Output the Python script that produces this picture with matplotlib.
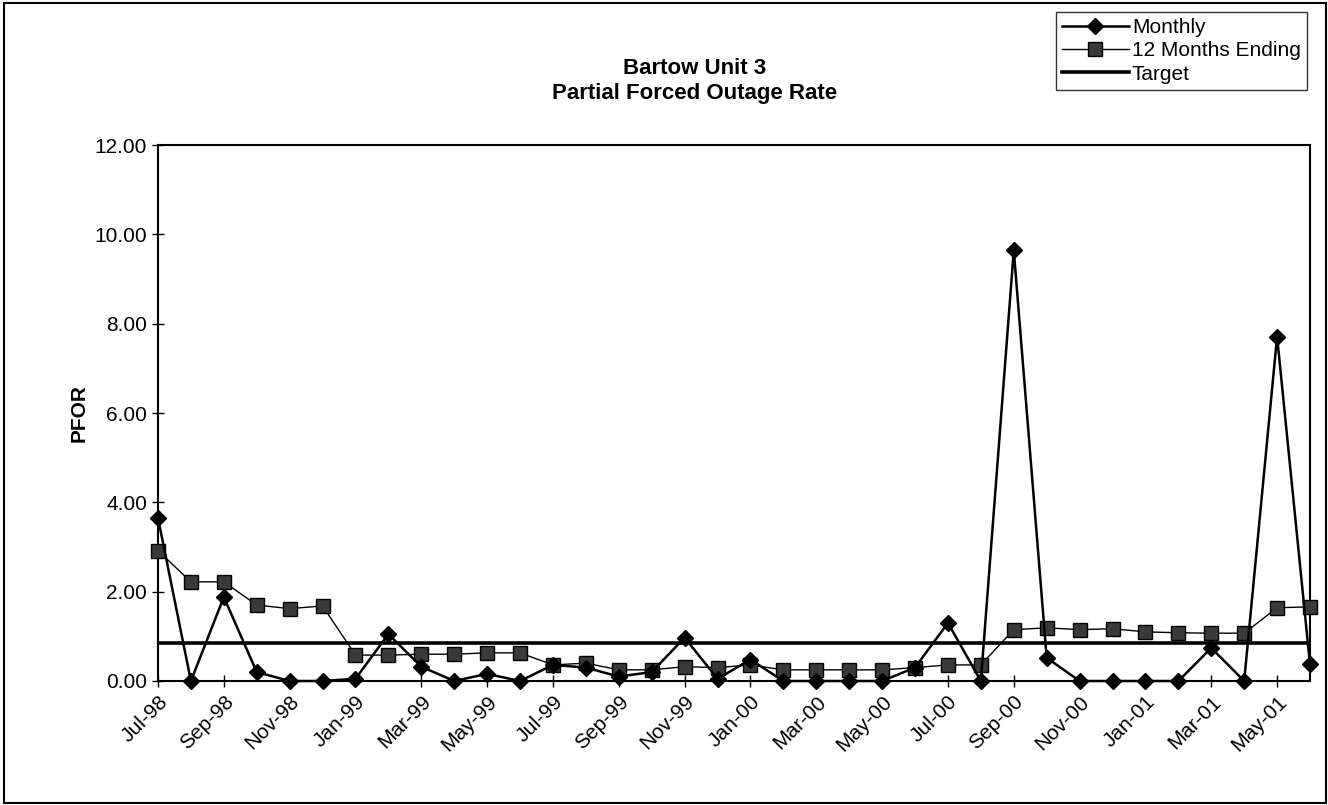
import matplotlib
matplotlib.use("Agg")
import matplotlib.pyplot as plt
from matplotlib.patches import Rectangle

plt.rcParams['font.family'] = ['Liberation Sans', 'DejaVu Sans']

# Meses de Jul-98 a Jun-01
months = ["Jul-98", "Aug-98", "Sep-98", "Oct-98", "Nov-98", "Dec-98",
          "Jan-99", "Feb-99", "Mar-99", "Apr-99", "May-99", "Jun-99",
          "Jul-99", "Aug-99", "Sep-99", "Oct-99", "Nov-99", "Dec-99",
          "Jan-00", "Feb-00", "Mar-00", "Apr-00", "May-00", "Jun-00",
          "Jul-00", "Aug-00", "Sep-00", "Oct-00", "Nov-00", "Dec-00",
          "Jan-01", "Feb-01", "Mar-01", "Apr-01", "May-01", "Jun-01"]

monthly = [3.65, 0.00, 1.88, 0.20, 0.00, 0.00,
           0.05, 1.05, 0.32, 0.00, 0.16, 0.00,
           0.36, 0.30, 0.10, 0.20, 0.97, 0.05,
           0.48, 0.00, 0.00, 0.00, 0.00, 0.30,
           1.30, 0.00, 9.64, 0.52, 0.00, 0.00,
           0.00, 0.00, 0.74, 0.00, 7.71, 0.37]

twelve_months = [2.92, 2.22, 2.22, 1.70, 1.62, 1.68,
                 0.58, 0.58, 0.60, 0.60, 0.63, 0.63,
                 0.36, 0.40, 0.25, 0.25, 0.32, 0.30,
                 0.36, 0.25, 0.25, 0.25, 0.25, 0.30,
                 0.36, 0.36, 1.15, 1.19, 1.15, 1.17,
                 1.10, 1.08, 1.07, 1.07, 1.64, 1.66]

target = [0.84] * len(months)

x = list(range(len(months)))
fs = 15

fig = plt.figure(figsize=(13.28, 8.05), dpi=100)
ax = fig.add_axes([158 / 1328, 1 - 681 / 805, (1310 - 158) / 1328, (681 - 145) / 805])

ax.plot(x, target, color="black", lw=2.6, label="Target", zorder=2)
ax.plot(x, twelve_months, color="black", lw=1.0, marker="s", markersize=9.5,
        markerfacecolor="#3a3a3a", markeredgecolor="black", markeredgewidth=1.0,
        label="12 Months Ending", zorder=3, clip_on=False)
ax.plot(x, monthly, color="black", lw=1.8, marker="D", markersize=8.5,
        markerfacecolor="black", markeredgecolor="black",
        label="Monthly", zorder=4, clip_on=False)

ax.set_xlim(0, len(months) - 1)
ax.set_ylim(0, 12)
ax.set_yticks([0, 2, 4, 6, 8, 10, 12])
ax.set_yticklabels([f"{v:.2f}" for v in [0, 2, 4, 6, 8, 10, 12]], fontsize=fs)
ax.set_xticks(x[::2])
ax.set_xticklabels(months[::2], rotation=45, ha="right", va="top",
                   rotation_mode="anchor", fontsize=fs)
ax.tick_params(axis="both", direction="inout", length=8, width=1.0, pad=4)
for s in ax.spines.values():
    s.set_linewidth(1.5)
ax.set_ylabel("PFOR", fontsize=fs, fontweight="bold", labelpad=4)

fig.text(0.523, 1 - 68 / 805, "Bartow Unit 3", ha="center", va="center",
         fontsize=16, fontweight="bold")
fig.text(0.523, 1 - 93 / 805, "Partial Forced Outage Rate", ha="center", va="center",
         fontsize=16, fontweight="bold")

handles, labels = ax.get_legend_handles_labels()
order = [2, 1, 0]
leg = fig.legend([handles[i] for i in order], [labels[i] for i in order],
                 loc="upper right", bbox_to_anchor=(1307 / 1328, 1 - 12 / 805),
                 fontsize=fs, frameon=True, fancybox=False, shadow=False,
                 borderpad=0.3, labelspacing=0.2, handlelength=3.2,
                 handletextpad=0.15, borderaxespad=0)
leg.get_frame().set_edgecolor("black")
leg.get_frame().set_linewidth(1.0)

# marco exterior del gráfico
fig.patches.append(Rectangle((4 / 1328, 2 / 805), 1322 / 1328, 800 / 805,
                             transform=fig.transFigure, fill=False,
                             edgecolor="black", lw=1.5))

plt.savefig("out.png", dpi=100)
plt.close()
